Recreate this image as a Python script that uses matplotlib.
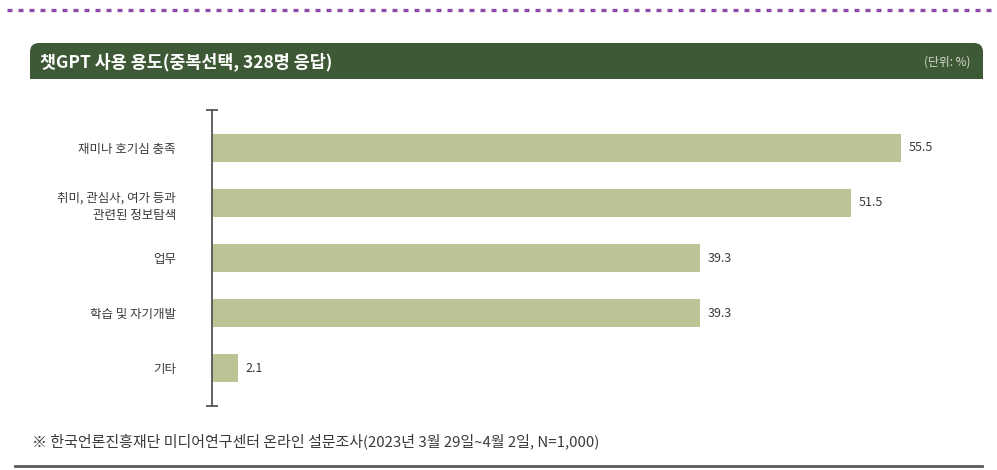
import matplotlib.pyplot as plt
from matplotlib.patches import FancyBboxPatch, Rectangle

plt.rcParams["font.family"] = ["Noto Sans CJK KR", "DejaVu Sans"]

# survey data (multiple choice, 328 respondents), unit: %
CATEGORIES = ["재미나 호기심 충족", "취미, 관심사, 여가 등과\n관련된 정보탐색", "업무", "학습 및 자기개발", "기타"]
VALUES = [55.5, 51.5, 39.3, 39.3, 2.1]
TITLE = "챗GPT 사용 용도(중복선택, 328명 응답)"
UNIT = "(단위: %)"
SOURCE = "※ 한국언론진흥재단 미디어연구센터 온라인 설문조사(2023년 3월 29일~4월 2일, N=1,000)"

BAR_COLOR = "#bcc394"
HEADER_COLOR = "#3e5935"
TEXT_COLOR = "#3a3a3a"

W, H = 997, 470
fig = plt.figure(figsize=(W / 100, H / 100), dpi=100)

# decoration layer in pixel coords
bg = fig.add_axes([0, 0, 1, 1])
bg.set_xlim(0, W)
bg.set_ylim(H, 0)
bg.axis("off")
bg.plot([7, W], [10, 10], color="#8e4aa8", lw=2.4, ls=(0, (1.5, 1.8)), solid_capstyle="butt")
bg.add_patch(FancyBboxPatch((30, 43), 953, 36, boxstyle="round,pad=0,rounding_size=9",
                            fc=HEADER_COLOR, ec="none"))
bg.add_patch(Rectangle((30, 62), 953, 17, fc=HEADER_COLOR, ec="none"))
bg.text(40, 62, TITLE, color="white", fontsize=12.5, fontweight="bold", va="center", ha="left")
bg.text(970, 62, UNIT, color="#d8dcd0", fontsize=8.5, va="center", ha="right")
bg.text(32, 441, SOURCE, color=TEXT_COLOR, fontsize=10.8, va="center", ha="left")
bg.plot([15, 982], [466, 466], color="#5a5a5a", lw=2)

# bar chart
left, right, top, bottom = 212, 962, 110, 406
ax = fig.add_axes([left / W, 1 - bottom / H, (right - left) / W, (bottom - top) / H])
ax.set_facecolor("none")
ypos = range(len(CATEGORIES))
ax.barh(ypos, VALUES, height=0.52, color=BAR_COLOR)
ax.set_xlim(0, (right - left) / 12.41)
ax.set_ylim(len(CATEGORIES) - 1 + 0.69, -0.69)
for y, v in zip(ypos, VALUES):
    ax.text(v + 0.6, y, f"{v:.1f}", va="center", ha="left", fontsize=9, color=TEXT_COLOR)
ax.set_yticks(list(ypos))
ax.set_yticklabels(CATEGORIES, fontsize=9, color=TEXT_COLOR, linespacing=1.5)
ax.tick_params(axis="y", length=0, pad=26)
ax.set_xticks([])
for s in ["top", "right", "bottom"]:
    ax.spines[s].set_visible(False)
ax.spines["left"].set_color("#555555")
ax.spines["left"].set_linewidth(1.3)
ax.plot([0, 0], [-0.69, len(CATEGORIES) - 1 + 0.69], ls="none", marker="_", ms=8,
        mew=1.3, color="#555555", clip_on=False)

fig.savefig("out.png", dpi=100)
